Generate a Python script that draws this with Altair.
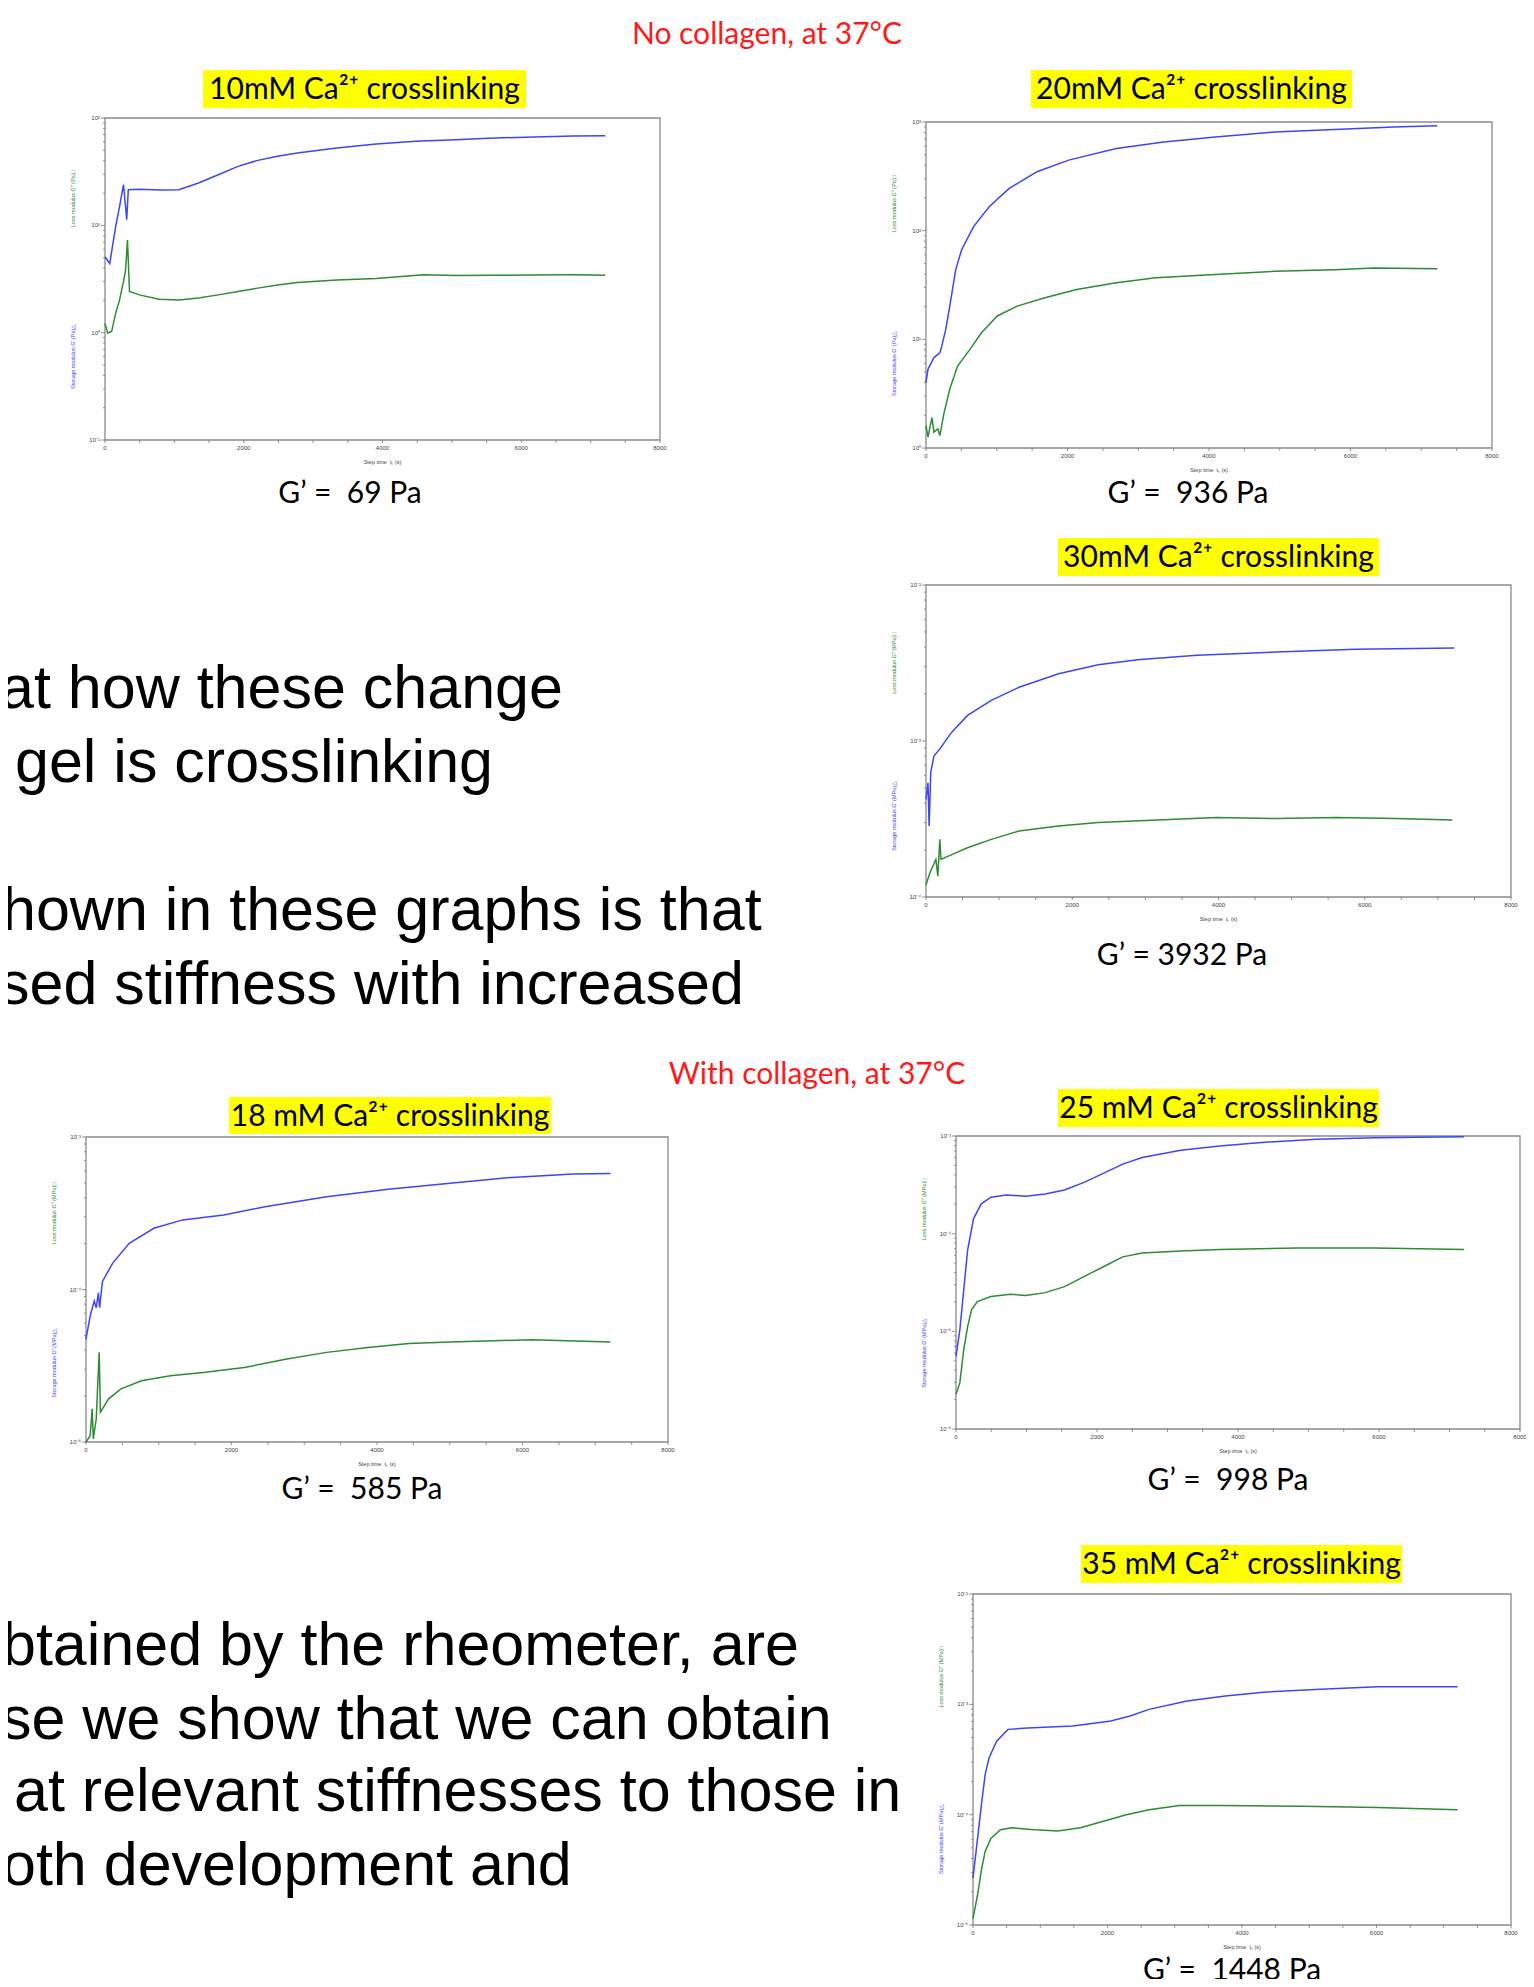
import altair as alt
import pandas as pd

BLUE = "#3c46f5"
GREEN = "#2e8b35"
RED = "#ff1a1a"
YELLOW = "#ffff00"

# ---------------- data ----------------
# 10 mM, no collagen (Pa)
T_B10 = [0, 68, 154, 210, 267, 313, 336, 495, 800, 1064, 1348, 1633, 1917, 2202, 2486, 2771, 3340, 3909, 4478, 5047, 5616, 6185, 6754, 7210]
V_B10 = [5.1, 4.4, 9.8, 15, 23.9, 11.3, 21.5, 21.7, 21.3, 21.5, 24.8, 29.6, 35.4, 40.3, 44, 47.2, 52.5, 57.2, 60.6, 62.8, 65.1, 66.5, 67.9, 68.4]
T_G10 = [0, 40, 97, 154, 210, 267, 296, 324, 353, 495, 780, 1064, 1348, 1633, 1917, 2202, 2486, 2771, 3340, 3909, 4592, 5047, 5616, 6185, 6754, 7210]
V_G10 = [1.22, 0.99, 1.03, 1.52, 2.02, 3.0, 3.8, 7.3, 2.42, 2.25, 2.05, 2.02, 2.1, 2.25, 2.42, 2.6, 2.78, 2.93, 3.1, 3.2, 3.46, 3.4, 3.42, 3.44, 3.46, 3.43]

# 20 mM, no collagen (Pa)
T_B20 = [0, 28, 112, 196, 224, 280, 336, 420, 504, 672, 896, 1176, 1569, 2017, 2689, 3361, 4089, 4930, 5770, 6610, 7227]
V_B20 = [4.02, 5.3, 6.8, 7.5, 8.7, 12.4, 20.2, 43.8, 66.8, 109, 167, 245, 349, 446, 570, 656, 729, 810, 855, 900, 926]
T_G20 = [0, 28, 84, 112, 168, 196, 252, 336, 448, 616, 784, 1008, 1288, 1681, 2129, 2689, 3249, 4089, 4930, 5770, 6330, 7227]
V_G20 = [1.61, 1.26, 1.9, 1.4, 1.5, 1.3, 2.06, 3.49, 5.7, 8.0, 11.5, 16.4, 20.2, 24.1, 28.8, 33.1, 36.9, 39.4, 42.3, 43.7, 45.3, 44.6]

# 30 mM, no collagen (MPa)
T_B30 = [0, 27, 43, 65, 108, 189, 352, 568, 893, 1272, 1813, 2354, 2895, 3707, 4790, 5872, 7225]
V_B30 = [4.23e-4, 5.4e-4, 2.85e-4, 6.3e-4, 8.0e-4, 8.9e-4, 1.14e-3, 1.46e-3, 1.82e-3, 2.21e-3, 2.70e-3, 3.08e-3, 3.32e-3, 3.54e-3, 3.72e-3, 3.87e-3, 3.95e-3]
T_G30 = [0, 54, 135, 162, 189, 205, 352, 568, 893, 1272, 1813, 2354, 3166, 3978, 4790, 5601, 6413, 7198]
V_G30 = [1.2e-4, 1.43e-4, 1.74e-4, 1.36e-4, 2.34e-4, 1.74e-4, 1.87e-4, 2.07e-4, 2.34e-4, 2.65e-4, 2.85e-4, 3.0e-4, 3.12e-4, 3.23e-4, 3.18e-4, 3.23e-4, 3.18e-4, 3.12e-4]

# 18 mM, with collagen (MPa)
T_B18 = [0, 57, 113, 141, 170, 187, 226, 367, 594, 933, 1329, 1894, 2460, 3308, 4156, 5004, 5852, 6700, 7209]
V_B18 = [4.72e-5, 6.7e-5, 8.4e-5, 7.6e-5, 9.5e-5, 7.6e-5, 1.13e-4, 1.49e-4, 2.01e-4, 2.52e-4, 2.86e-4, 3.08e-4, 3.49e-4, 4.06e-4, 4.54e-4, 4.97e-4, 5.43e-4, 5.71e-4, 5.76e-4]
T_G18 = [0, 57, 85, 100, 141, 181, 198, 311, 481, 763, 1159, 1611, 2177, 2742, 3308, 3873, 4438, 5004, 6134, 7209]
V_G18 = [1.0e-5, 1.1e-5, 1.65e-5, 1.05e-5, 1.42e-5, 3.87e-5, 1.57e-5, 1.92e-5, 2.23e-5, 2.52e-5, 2.72e-5, 2.86e-5, 3.08e-5, 3.49e-5, 3.87e-5, 4.17e-5, 4.43e-5, 4.53e-5, 4.68e-5, 4.53e-5]

# 25 mM, with collagen (MPa)
T_B25 = [0, 55, 110, 165, 248, 358, 495, 715, 990, 1265, 1540, 1815, 2090, 2365, 2640, 3190, 3740, 4290, 5115, 5940, 7205]
V_B25 = [5.57e-6, 1.04e-5, 2.65e-5, 6.8e-5, 1.42e-4, 2.02e-4, 2.36e-4, 2.49e-4, 2.42e-4, 2.55e-4, 2.8e-4, 3.35e-4, 4.14e-4, 5.15e-4, 6.02e-4, 7.15e-4, 7.91e-4, 8.55e-4, 9.25e-4, 9.6e-4, 9.8e-4]
T_G25 = [0, 55, 110, 165, 220, 303, 495, 770, 990, 1265, 1540, 1815, 2090, 2365, 2640, 3190, 3740, 4840, 5940, 7205]
V_G25 = [2.27e-6, 2.98e-6, 6.5e-6, 1.12e-5, 1.66e-5, 2.02e-5, 2.27e-5, 2.4e-5, 2.33e-5, 2.49e-5, 2.87e-5, 3.63e-5, 4.58e-5, 5.79e-5, 6.35e-5, 6.66e-5, 6.9e-5, 7.15e-5, 7.15e-5, 6.9e-5]

# 35 mM, with collagen (MPa)
T_B35 = [0, 68, 125, 181, 238, 351, 521, 805, 1484, 2051, 2334, 2618, 3184, 3751, 4318, 5167, 6017, 7207]
V_B35 = [2.66e-5, 6.1e-5, 1.23e-4, 2.31e-4, 3.27e-4, 4.64e-4, 5.93e-4, 6.1e-4, 6.35e-4, 7.05e-4, 7.83e-4, 9.0e-4, 1.07e-3, 1.19e-3, 1.29e-3, 1.37e-3, 1.44e-3, 1.44e-3]
T_G35 = [0, 68, 125, 181, 266, 408, 578, 918, 1258, 1598, 1938, 2278, 2618, 3071, 3751, 4884, 6017, 7207]
V_G35 = [1.15e-5, 1.87e-5, 3.16e-5, 4.64e-5, 6.1e-5, 7.3e-5, 7.6e-5, 7.3e-5, 7.1e-5, 7.6e-5, 8.7e-5, 1.0e-4, 1.11e-4, 1.21e-4, 1.21e-4, 1.19e-4, 1.16e-4, 1.11e-4]

X_TICK_LABELS = [0, 2000, 4000, 6000, 8000]
X_MINOR = list(range(0, 8001, 500))
PANEL_TITLES = ["10mM Ca²⁺ crosslinking", "20mM Ca²⁺ crosslinking", "30mM Ca²⁺ crosslinking",
                "18 mM Ca²⁺ crosslinking", "25 mM Ca²⁺ crosslinking", "35 mM Ca²⁺ crosslinking"]
G_LABELS = ["G’ =\u00a0 69 Pa", "G’ =\u00a0 936 Pa", "G’ = 3932 Pa",
            "G’ =\u00a0 585 Pa", "G’ =\u00a0 998 Pa", "G’ =\u00a0 1448 Pa"]
SECTION_TITLES = ["No collagen, at 37°C", "With collagen, at 37°C"]
BODY_LINES = ["at how these change", "gel is crosslinking",
              "hown in these graphs is that", "sed stiffness with increased",
              "btained by the rheometer, are", "se we show that we can obtain",
              "at relevant stiffnesses to those in", "oth development and"]
X_TITLE = "Step time\u00a0 tₛ (s)"

# ---------------- layout ----------------
W_VIEW = 1518
H_VIEW = 1971
OFF = 8  # page margin
SMALL_FONT = "Liberation Sans"


def sup(e):
    m = {'-': '⁻', '0': '⁰', '1': '¹', '2': '²', '3': '³', '4': '⁴',
         '5': '⁵', '6': '⁶', '7': '⁷', '8': '⁸', '9': '⁹'}
    return '10' + ''.join(m[c] for c in str(e))


def one():
    return alt.Data(values=[{}])


def txt(s, x, y, size, color="black", font="Lato", align="center",
        baseline="middle", angle=None):
    kw = dict(text=s, fontSize=size, color=color, font=font, align=align,
              baseline=baseline)
    if angle is not None:
        kw["angle"] = angle
    return alt.Chart(one()).mark_text(**kw).encode(
        x=alt.value(x - OFF), y=alt.value(y - OFF))


def highlight(x0, x1, y0, y1):
    return alt.Chart(one()).mark_rect(color=YELLOW).encode(
        x=alt.value(x0 - OFF), x2=alt.value(x1 - OFF),
        y=alt.value(y0 - OFF), y2=alt.value(y1 - OFF))


def panel(box, exps, unit, tb, vb, tg, vg):
    L, R, T, B = [v - OFF for v in box]
    e0, e1 = exps
    ydom = [10.0 ** e0, 10.0 ** e1]
    xs = alt.Scale(domain=[0, 8000], range=[L, R], nice=False, zero=False)
    ys = alt.Scale(type="log", domain=ydom, range=[B, T], nice=False)
    X = lambda f: alt.X(f, scale=xs, axis=None)
    Y = lambda f: alt.Y(f, scale=ys, axis=None)

    frame = alt.Chart(alt.Data(values=[{"a": 0, "b": 8000, "c": ydom[0], "d": ydom[1]}])).mark_rect(
        fillOpacity=0, stroke="#8a8a8a", strokeWidth=1.3).encode(
        x=X("a:Q"), x2="b:Q", y=Y("c:Q"), y2="d:Q")

    # x ticks + labels
    xminor = alt.Chart(pd.DataFrame({"v": X_MINOR})).mark_rule(color="#777", strokeWidth=0.8).encode(
        x=X("v:Q"), y=alt.value(B), y2=alt.value(B + 3))
    xlab = alt.Chart(pd.DataFrame({"v": X_TICK_LABELS})).mark_text(
        fontSize=6, font=SMALL_FONT, color="#444", baseline="top").encode(
        x=X("v:Q"), y=alt.value(B + 5), text=alt.Text("v:Q", format="d"))

    # y ticks + labels (log decades)
    ymin_vals = [m * 10.0 ** e for e in range(e0, e1) for m in range(2, 10)]
    ymaj_vals = [10.0 ** e for e in range(e0, e1 + 1)]
    yminor = alt.Chart(pd.DataFrame({"v": ymin_vals})).mark_rule(color="#777", strokeWidth=0.8).encode(
        y=Y("v:Q"), x=alt.value(L - 2), x2=alt.value(L))
    ymajor = alt.Chart(pd.DataFrame({"v": ymaj_vals})).mark_rule(color="#777", strokeWidth=0.8).encode(
        y=Y("v:Q"), x=alt.value(L - 4), x2=alt.value(L))
    ylab = alt.Chart(pd.DataFrame({"v": ymaj_vals, "lab": [sup(e) for e in range(e0, e1 + 1)]})).mark_text(
        fontSize=6, font=SMALL_FONT, color="#444", align="right", baseline="middle").encode(
        y=Y("v:Q"), x=alt.value(L - 5), text="lab:N")

    green = alt.Chart(pd.DataFrame({"t": tg, "v": vg})).mark_line(
        color=GREEN, strokeWidth=1.5).encode(x=X("t:Q"), y=Y("v:Q"))
    blue = alt.Chart(pd.DataFrame({"t": tb, "v": vb})).mark_line(
        color=BLUE, strokeWidth=1.5).encode(x=X("t:Q"), y=Y("v:Q"))

    H = box[3] - box[2]
    deco = [
        txt(X_TITLE, (box[0] + box[1]) / 2, box[3] + 22, 5.5, "#444", SMALL_FONT),
        txt(f"Loss modulus G'' ({unit})□", box[0] - 32, box[2] + 0.25 * H, 5.5, GREEN,
            SMALL_FONT, angle=270),
        txt(f"Storage modulus G' ({unit})△", box[0] - 32, box[2] + 0.74 * H, 5.5, BLUE,
            SMALL_FONT, angle=270),
    ]
    return [alt.layer(frame, xminor, xlab, yminor, ymajor, ylab, green, blue)] + deco


# panel boxes: left, right, top, bottom (page px)
BOXES = [(105, 660, 118, 440), (926, 1492, 122, 448), (926, 1511, 585, 897),
         (86, 668, 1137, 1442), (956, 1520, 1136, 1429), (973, 1511, 1594, 1925)]
EXPS = [(-1, 2), (0, 3), (-4, -2), (-5, -3), (-6, -3), (-5, -2)]
UNITS = ["Pa", "Pa", "MPa", "MPa", "MPa", "MPa"]
SERIES = [(T_B10, V_B10, T_G10, V_G10), (T_B20, V_B20, T_G20, V_G20),
          (T_B30, V_B30, T_G30, V_G30), (T_B18, V_B18, T_G18, V_G18),
          (T_B25, V_B25, T_G25, V_G25), (T_B35, V_B35, T_G35, V_G35)]
TITLE_POS = [(203, 526, 70, 108), (1031, 1352, 70, 108), (1058, 1379, 538, 576),
             (229, 551, 1097, 1134), (1058, 1379, 1089, 1127), (1081, 1402, 1545, 1583)]
G_POS = [(350, 494), (1188, 494), (1182, 956), (362, 1490), (1228, 1481), (1232, 1971)]
SECTION_POS = [(767, 35), (817, 1075)]
BODY_POS = [(0, 708), (15, 782), (2, 930), (-1, 1004), (2, 1665), (1, 1739), (14, 1811), (2, 1885)]

layers = []
for (x, y), s in zip(SECTION_POS, SECTION_TITLES):
    layers.append(txt(s, x, y, 30, RED))
for (x0, x1, y0, y1), s in zip(TITLE_POS, PANEL_TITLES):
    layers.append(highlight(x0, x1, y0, y1))
    layers.append(txt(s, (x0 + x1) / 2, (y0 + y1) / 2 + 1, 30))
for (x, y), s in zip(G_POS, G_LABELS):
    layers.append(txt(s, x, y, 30))
for (x, y), s in zip(BODY_POS, BODY_LINES):
    layers.append(txt(s, x, y, 61, "black", "Liberation Sans", align="left",
                      baseline="alphabetic"))
for box, ex, un, ser in zip(BOXES, EXPS, UNITS, SERIES):
    layers.extend(panel(box, ex, un, *ser))

chart = alt.layer(*layers).resolve_scale(x="independent", y="independent").properties(
    width=W_VIEW, height=H_VIEW, padding=0,
    autosize=alt.AutoSizeParams(type="none")
).configure_view(strokeWidth=0)

chart.save("out.html", embed_options={"renderer": "svg", "actions": False})
